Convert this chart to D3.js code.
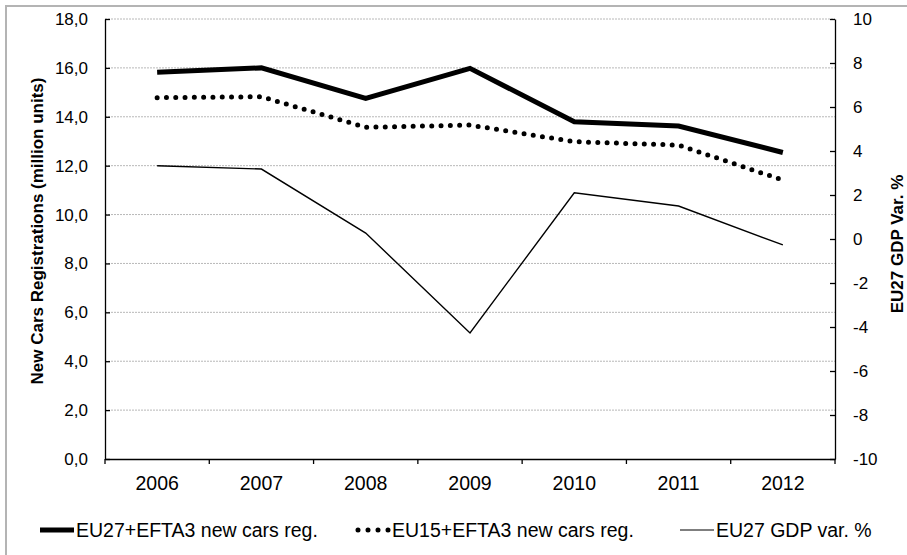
<!DOCTYPE html>
<html>
<head>
<meta charset="utf-8">
<script src="https://cdn.jsdelivr.net/npm/d3@7"></script>
<style>
  body { margin: 0; background: #fff; }
  text { font-family: "Liberation Sans", Arial, sans-serif; fill: #000; }
</style>
</head>
<body>
<div class="chart__container"></div>
<script>
/*-------------------------------------INIT-------------------------------------*/

const CHART__WIDTH = 907;
const CHART__HEIGHT = 555;

const MARGIN = { top: 19, right: 72, bottom: 96, left: 105 };

const YEARS = ["2006", "2007", "2008", "2009", "2010", "2011", "2012"];
const EU27_EFTA3 = [15.82, 16.0, 14.75, 15.98, 13.8, 13.62, 12.54];
const EU15_EFTA3 = [14.78, 14.82, 13.57, 13.66, 12.98, 12.84, 11.41];
const GDP_VAR = [3.33, 3.18, 0.27, -4.27, 2.1, 1.5, -0.27];

const LEFT_TICKS = [0, 2, 4, 6, 8, 10, 12, 14, 16, 18];
const RIGHT_TICKS = [-10, -8, -6, -4, -2, 0, 2, 4, 6, 8, 10];

const LEGEND = [
    { label: "EU27+EFTA3 new cars reg.", key: "thick" },
    { label: "EU15+EFTA3 new cars reg.", key: "dots" },
    { label: "EU27 GDP var. %", key: "thin" }
];

/*-------------------------------------Graph-------------------------------------*/

const SVG = d3.select(".chart__container").append("svg")
    .attr("width", CHART__WIDTH).attr("height", CHART__HEIGHT);

// frame
SVG.append("rect")
    .attr("x", 6).attr("y", 6)
    .attr("width", CHART__WIDTH + 20).attr("height", CHART__HEIGHT + 20)
    .attr("fill", "none").attr("stroke", "#b4b4b4").attr("stroke-width", 2);

const x = d3.scaleBand().domain(YEARS)
    .range([MARGIN.left, CHART__WIDTH - MARGIN.right]);
const yLeft = d3.scaleLinear().domain([0, 18])
    .range([CHART__HEIGHT - MARGIN.bottom, MARGIN.top]);
const yRight = d3.scaleLinear().domain([-10, 10])
    .range([CHART__HEIGHT - MARGIN.bottom, MARGIN.top]);

const plotLeft = MARGIN.left;
const plotRight = CHART__WIDTH - MARGIN.right;
const plotBottom = CHART__HEIGHT - MARGIN.bottom;

// gridlines
SVG.append("g").selectAll("line")
    .data(LEFT_TICKS.filter(d => d > 0))
    .join("line")
    .attr("x1", plotLeft).attr("x2", plotRight)
    .attr("y1", d => yLeft(d)).attr("y2", d => yLeft(d))
    .attr("stroke", "#b8b8b8").attr("stroke-width", 1)
    .attr("stroke-dasharray", "2 1");

// left axis
const leftAxis = SVG.append("g")
    .attr("transform", `translate(${plotLeft},0)`)
    .call(d3.axisLeft(yLeft).tickValues(LEFT_TICKS)
        .tickSizeInner(-5).tickSizeOuter(0).tickPadding(17)
        .tickFormat(d => d3.format(".1f")(d).replace(".", ",")));

// right axis (plain hyphen for negatives, like the original)
const rightAxis = SVG.append("g")
    .attr("transform", `translate(${plotRight},0)`)
    .call(d3.axisRight(yRight).tickValues(RIGHT_TICKS)
        .tickSizeInner(-5).tickSizeOuter(0).tickPadding(18)
        .tickFormat(d => String(d)));

// bottom axis
const xAxis = SVG.append("g")
    .attr("transform", `translate(0,${plotBottom})`)
    .call(d3.axisBottom(x).tickSize(0).tickPadding(17));

// category boundary ticks
SVG.append("g").selectAll("line")
    .data(YEARS.concat(["end"]))
    .join("line")
    .attr("x1", (d, i) => plotLeft + i * x.step())
    .attr("x2", (d, i) => plotLeft + i * x.step())
    .attr("y1", plotBottom).attr("y2", plotBottom + 5)
    .attr("stroke", "#000").attr("stroke-width", 1.3);

[leftAxis, rightAxis, xAxis].forEach(a => {
    a.selectAll("path").attr("stroke", "#000").attr("stroke-width", 1.3);
    a.selectAll("line").attr("stroke", "#000").attr("stroke-width", 1.3);
    a.selectAll("text").attr("font-family", "Liberation Sans, Arial, sans-serif").attr("fill", "#000");
});
leftAxis.selectAll("text").attr("font-size", 17);
rightAxis.selectAll("text").attr("font-size", 17);
xAxis.selectAll("text").attr("font-size", 19.5);

// axis titles
SVG.append("text")
    .attr("transform", `translate(43,${(MARGIN.top + plotBottom) / 2 - 8}) rotate(-90)`)
    .attr("text-anchor", "middle")
    .attr("font-size", 17).attr("font-weight", "bold")
    .text("New Cars Registrations (million units)");

SVG.append("text")
    .attr("transform", `translate(903,${(MARGIN.top + plotBottom) / 2 + 5}) rotate(-90)`)
    .attr("text-anchor", "middle")
    .attr("font-size", 17).attr("font-weight", "bold")
    .text("EU27 GDP Var. %");

// lines
const cx = d => x(d) + x.bandwidth() / 2;

const lineLeft = d3.line().x((d, i) => cx(YEARS[i])).y(d => yLeft(d));
const lineRight = d3.line().x((d, i) => cx(YEARS[i])).y(d => yRight(d));

const STYLES = {
    thick: { width: 5, dash: null, cap: "butt" },
    dots: { width: 5, dash: "0 9.3", cap: "round" },
    thin: { width: 1.4, dash: null, cap: "butt" }
};

SVG.append("path").datum(GDP_VAR).attr("d", lineRight)
    .attr("fill", "none").attr("stroke", "#000")
    .attr("stroke-width", STYLES.thin.width);

SVG.append("path").datum(EU15_EFTA3).attr("d", lineLeft)
    .attr("fill", "none").attr("stroke", "#000")
    .attr("stroke-width", STYLES.dots.width)
    .attr("stroke-dasharray", STYLES.dots.dash)
    .attr("stroke-linecap", "round");

SVG.append("path").datum(EU27_EFTA3).attr("d", lineLeft)
    .attr("fill", "none").attr("stroke", "#000")
    .attr("stroke-width", STYLES.thick.width)
    .attr("stroke-linejoin", "miter");

// legend
const LEGEND_X = [40, 356, 680];
const legend = SVG.append("g").attr("transform", "translate(0,530)");
LEGEND.forEach((item, i) => {
    const st = STYLES[item.key];
    const g = legend.append("g").attr("transform", `translate(${LEGEND_X[i]},0)`);
    g.append("line")
        .attr("x1", item.key === "dots" ? 2 : 0).attr("x2", item.key === "dots" ? 33 : 34)
        .attr("y1", 0).attr("y2", 0)
        .attr("stroke", "#000").attr("stroke-width", item.key === "thin" ? 1.2 : st.width)
        .attr("stroke-dasharray", item.key === "dots" ? "0 10" : null)
        .attr("stroke-linecap", st.cap);
    g.append("text")
        .attr("x", 36).attr("y", 0).attr("dy", "0.35em")
        .attr("font-size", 19.5)
        .text(item.label);
});
</script>
</body>
</html>
